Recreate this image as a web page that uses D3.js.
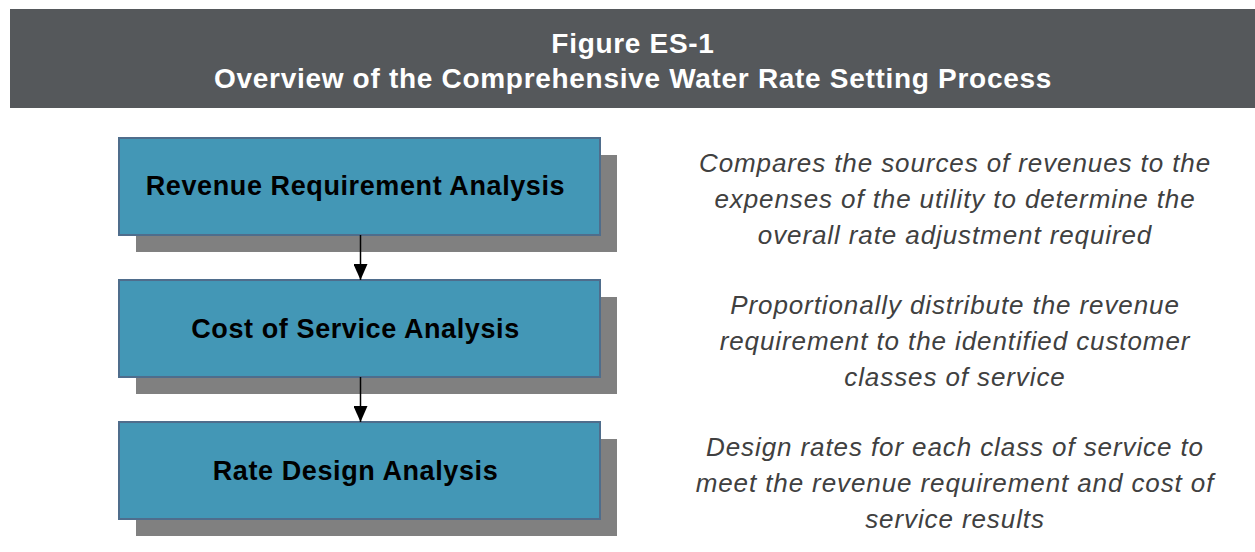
<!DOCTYPE html>
<html>
<head>
<meta charset="utf-8">
<title>Figure ES-1</title>
<script src="https://d3js.org/d3.v7.min.js"></script>
<style>
  body { margin: 0; background: #fff; }
  text { font-family: "Liberation Sans", Arial, sans-serif; }
</style>
</head>
<body>
<script>
// chart content
var titleLines = ["Figure ES-1", "Overview of the Comprehensive Water Rate Setting Process"];
var steps = ["Revenue Requirement Analysis", "Cost of Service Analysis", "Rate Design Analysis"];
var descriptions = [
  ["Compares the sources of revenues to the", "expenses of the utility to determine the", "overall rate adjustment required"],
  ["Proportionally distribute the revenue", "requirement to the identified customer", "classes of service"],
  ["Design rates for each class of service to", "meet the revenue requirement and cost of", "service results"]
];

var width = 1255, height = 552;
var boxLeft = 119, boxW = 481, shadowOff = 17;
var descX = 955;

var svg = d3.select("body").append("svg")
    .attr("width", width)
    .attr("height", height);

// arrow marker (points along +x, rotated by the line)
svg.append("defs").append("marker")
    .attr("id", "arrow")
    .attr("viewBox", "0 0 16 14")
    .attr("refX", 16).attr("refY", 7)
    .attr("markerWidth", 16).attr("markerHeight", 14)
    .attr("markerUnits", "userSpaceOnUse")
    .attr("orient", "auto")
  .append("path")
    .attr("d", "M0,0 L16,7 L0,14 Z")
    .attr("fill", "#000");

// header band
svg.append("rect")
    .attr("x", 10).attr("y", 9)
    .attr("width", width - 10).attr("height", 99)
    .attr("fill", "#55585b");

svg.selectAll(".title")
    .data(titleLines)
  .enter().append("text")
    .attr("class", "title")
    .attr("x", 633)
    .attr("y", function(d, i) { return 53 + i * 35; })
    .attr("text-anchor", "middle")
    .attr("fill", "#fff")
    .attr("font-weight", "bold")
    .attr("font-size", 28)
    .attr("letter-spacing", 0.7)
    .text(function(d) { return d; });

// vertical layout of the boxes
var y = d3.scaleBand()
    .domain(steps)
    .range([138, 519])
    .paddingInner(0.317);

var g = svg.selectAll(".step")
    .data(steps)
  .enter().append("g")
    .attr("class", "step");

g.append("rect")
    .attr("x", boxLeft + shadowOff)
    .attr("y", function(d) { return y(d) + shadowOff; })
    .attr("width", boxW)
    .attr("height", y.bandwidth())
    .attr("fill", "#808080");

g.append("rect")
    .attr("x", boxLeft)
    .attr("y", function(d) { return y(d); })
    .attr("width", boxW)
    .attr("height", y.bandwidth())
    .attr("fill", "#4397b6")
    .attr("stroke", "#4f6d8c")
    .attr("stroke-width", 2);

g.append("text")
    .attr("x", boxLeft + boxW / 2 - 4)
    .attr("y", function(d) { return y(d) + y.bandwidth() / 2 + 9; })
    .attr("text-anchor", "middle")
    .attr("font-weight", "bold")
    .attr("font-size", 27)
    .attr("letter-spacing", 0.6)
    .attr("fill", "#000")
    .text(function(d) { return d; });

// connectors
var cx = boxLeft + boxW / 2 + 1;
svg.selectAll(".link")
    .data(d3.pairs(steps))
  .enter().append("line")
    .attr("class", "link")
    .attr("x1", cx).attr("x2", cx)
    .attr("y1", function(d) { return y(d[0]) + y.bandwidth(); })
    .attr("y2", function(d) { return y(d[1]); })
    .attr("stroke", "#000")
    .attr("stroke-width", 1.5)
    .attr("marker-end", "url(#arrow)");

// descriptions on the right
svg.selectAll(".desc")
    .data(descriptions)
  .enter().append("text")
    .attr("class", "desc")
    .attr("text-anchor", "middle")
    .attr("font-style", "italic")
    .attr("font-size", 26)
    .attr("letter-spacing", 0.9)
    .attr("fill", "#404040")
  .selectAll("tspan")
    .data(function(d, i) { return d.map(function(line) { return { line: line, step: steps[i] }; }); })
  .enter().append("tspan")
    .attr("x", descX)
    .attr("y", function(d, j) { return y(d.step) + 34 + j * 36; })
    .text(function(d) { return d.line; });
</script>
</body>
</html>
